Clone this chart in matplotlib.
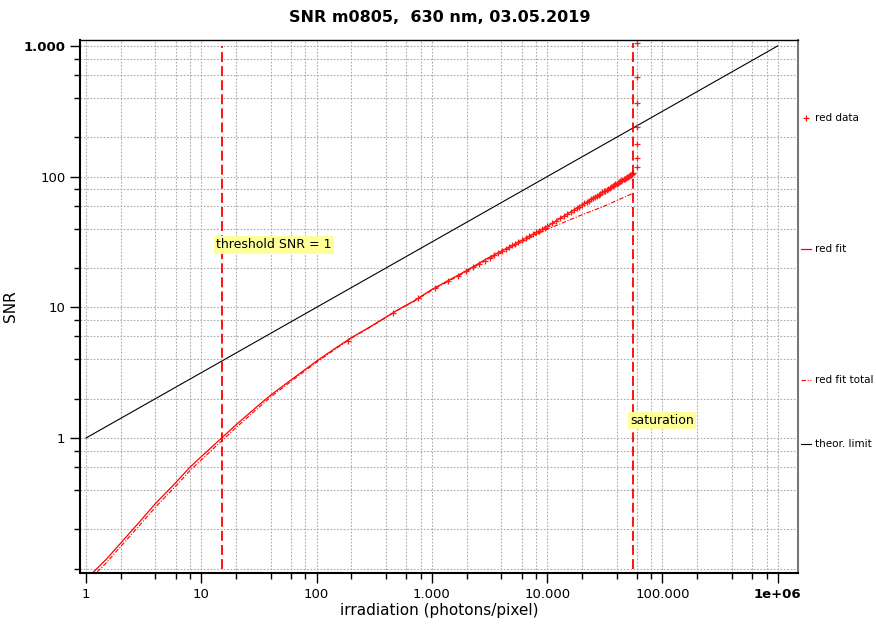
import matplotlib
matplotlib.use("Agg")
import matplotlib.pyplot as plt
from matplotlib.lines import Line2D
from matplotlib.ticker import FixedLocator, FixedFormatter, NullFormatter

# theoretical limit
theo_x = [1, 10, 100, 1000, 10000, 100000, 1000000]
theo_snr = [1.0, 3.16, 10.0, 31.6, 100.0, 316.0, 1000.0]

# red fit
fit_x = [1.1, 1.5, 2, 3, 4, 6, 8, 10, 15, 20, 30, 40, 60, 100, 150, 200, 300,
         500, 700, 1000, 2000, 3000, 5000, 7000, 10000, 20000, 30000, 40000, 55800]
fit_snr = [0.090, 0.118, 0.157, 0.235, 0.315, 0.455, 0.60, 0.72, 1.0, 1.26, 1.72,
           2.13, 2.78, 3.88, 4.95, 5.85, 7.2, 9.5, 11.2, 13.7, 19.1, 23.6, 29.8,
           35.0, 41.6, 60.7, 75.6, 88.4, 106.0]

# red fit total
tot_x = fit_x
tot_snr = [0.0846, 0.111, 0.148, 0.221, 0.296, 0.428, 0.565, 0.68, 0.95, 1.2, 1.65,
           2.06, 2.71, 3.8, 4.88, 5.8, 7.15, 9.45, 11.1, 13.5, 18.8, 23.1, 29.0,
           33.8, 39.5, 51.0, 58.5, 65.5, 74.6]

# red data
data_x = [188, 464, 763, 1063, 1370, 1670, 1970, 2270, 2570, 2870, 3170, 3470, 3770,
          4070, 4370, 4670, 5000, 5300, 5600, 6000, 6500, 7000, 7500, 8000, 8500,
          9000, 9500, 10000, 11000, 12000, 13000, 14000, 15000, 16000, 17000, 18000,
          19000, 20000, 21000, 22000, 23000, 24000, 25000, 26000, 27000, 28000, 29000,
          30000, 31000, 32000, 33000, 34000, 35000, 36000, 37000, 38000, 39000, 40000,
          41000, 42000, 43000, 44000, 45000, 46000, 47000, 48000, 49000, 50000, 51000,
          52000, 53000, 54000, 55000, 55800,
          59700, 59700, 59700, 59700, 59700, 59700, 59700]
data_snr = [5.56, 9.0, 11.7, 14.1, 15.9, 17.5, 19.0, 20.3, 21.6, 22.8, 23.9, 25.0, 26.0,
            27.0, 27.9, 28.8, 29.8, 30.6, 31.5, 32.5, 33.8, 35.0, 36.2, 37.4, 38.5,
            39.6, 40.6, 41.6, 43.8, 45.9, 48.0, 50.0, 51.9, 53.7, 55.5, 57.3,
            59.0, 60.7, 62.3, 63.9, 65.4, 67.0, 68.5, 70.0, 71.4, 72.8, 74.2,
            75.6, 77.0, 78.3, 79.6, 81.0, 82.2, 83.5, 84.8, 86.0, 87.2, 88.4,
            89.6, 90.8, 92.0, 93.1, 94.3, 95.4, 96.5, 97.7, 98.7, 99.8, 100.9,
            102.0, 103.1, 104.1, 105.2, 106.0,
            119, 140, 177, 238, 368, 575, 1058]

threshold_x = 15
saturation_x = 55800

x_major = [1, 10, 100, 1000, 10000, 100000, 1000000]
x_labels = ['1', '10', '100', '1.000', '10.000', '100.000', '1e+06']
y_major = [1, 10, 100, 1000]
y_labels = ['1', '10', '100', '1.000']

fig = plt.figure(figsize=(8.76, 6.24), dpi=100)
ax = fig.add_axes([80 / 876, 51 / 624, 718 / 876, 533 / 624])
ax.set_xscale('log')
ax.set_yscale('log')
ax.set_xlim(0.887, 1.5e6)
ax.set_ylim(0.0927, 1110)

red = '#ff0000'
ax.plot(theo_x, theo_snr, color='black', lw=0.8)
ax.plot(tot_x, tot_snr, color=red, lw=0.8, linestyle=(0, (4, 1.5, 1, 1.5)))
ax.plot(fit_x, fit_snr, color=red, lw=0.9)
ax.plot(data_x, data_snr, linestyle='none', marker='+', ms=5, mew=0.9,
        color='#ff1a1a')

ax.vlines(threshold_x, 0.1, 1000, color=red, lw=1.3, linestyles=[(0, (5.5, 2.3))])
ax.vlines(saturation_x, 0.1, 1060, color=red, lw=1.3, linestyles=[(0, (5.5, 2.3))])

box = dict(facecolor='#ffff99', edgecolor='none', pad=1.5)
ax.text(13.4, 30.0, 'threshold SNR = 1', fontsize=9, ha='left', va='center', bbox=box)
ax.text(52200, 1.37, 'saturation', fontsize=9, ha='left', va='center', bbox=box)

# ticks
ax.xaxis.set_major_locator(FixedLocator(x_major))
ax.xaxis.set_major_formatter(FixedFormatter(x_labels))
ax.yaxis.set_major_locator(FixedLocator(y_major))
ax.yaxis.set_major_formatter(FixedFormatter(y_labels))
xminor = [m * 10 ** e for e in range(0, 6) for m in (2, 4, 6, 8)]
yminor = [0.1] + [m * 10 ** e for e in range(-1, 3) for m in (2, 4, 6, 8)]
ax.xaxis.set_minor_locator(FixedLocator(xminor))
ax.yaxis.set_minor_locator(FixedLocator(yminor))
ax.xaxis.set_minor_formatter(NullFormatter())
ax.yaxis.set_minor_formatter(NullFormatter())
ax.tick_params(which='major', direction='out', length=7, width=1, labelsize=9.5)
ax.tick_params(which='minor', direction='out', length=4, width=1)
ax.tick_params(axis='y', which='minor', length=4.5)
ax.xaxis.get_majorticklabels()[-1].set_fontweight('bold')
ax.yaxis.get_majorticklabels()[-1].set_fontweight('bold')

ax.grid(which='both', color='#ababab', lw=0.8, linestyle=(0, (1.5, 1.5)))
ax.set_axisbelow(True)

for s in ('left', 'bottom'):
    ax.spines[s].set_linewidth(1.5)
ax.spines['top'].set_linewidth(1.0)
ax.spines['right'].set_linewidth(1.5)
ax.spines['right'].set_color('#777777')

ax.set_xlabel('irradiation (photons/pixel)', fontsize=11, labelpad=2)
ax.set_ylabel('SNR', fontsize=11)
ax.yaxis.set_label_coords(-0.086, 0.5)
fig.text(440 / 876, 1 - 18 / 624, 'SNR m0805,  630 nm, 03.05.2019',
         fontsize=11.5, fontweight='bold', ha='center', va='center')

# legend on the right
def fy(py):
    return 1 - py / 624

fig.add_artist(Line2D([806 / 876], [fy(118)], marker='+', ms=5, mew=0.8,
                      color=red, transform=fig.transFigure))
fig.add_artist(Line2D([801 / 876, 811 / 876], [fy(249), fy(249)], color=red,
                      lw=0.9, transform=fig.transFigure))
fig.add_artist(Line2D([801 / 876, 811 / 876], [fy(380), fy(380)], color=red,
                      lw=0.8, linestyle=(0, (4, 1.5, 1, 1.5)),
                      transform=fig.transFigure))
fig.add_artist(Line2D([801 / 876, 811 / 876], [fy(444), fy(444)], color='black',
                      lw=0.8, transform=fig.transFigure))
legend_names = ['red data', 'red fit', 'red fit total', 'theor. limit']
legend_y = [118, 249, 380, 444]
for name, py in zip(legend_names, legend_y):
    fig.text(815 / 876, fy(py), name, fontsize=7.5, ha='left', va='center')

fig.savefig('out.png', dpi=100)
